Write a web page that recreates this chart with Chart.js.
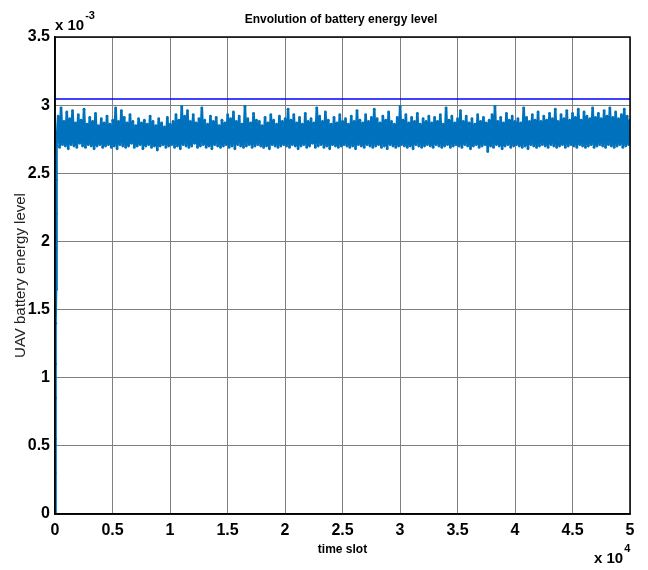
<!DOCTYPE html>
<html>
<head>
<meta charset="utf-8">
<title>Envolution of battery energy level</title>
<script src="https://cdn.jsdelivr.net/npm/chart.js@4.4.1/dist/chart.umd.min.js"></script>
<style>
    html, body { margin: 0; padding: 0; background: #ffffff; }
    #battery-chart { display: block; }
</style>
</head>
<body>
<canvas id="battery-chart" width="648" height="570"></canvas>
<script>
// Axis ticks (x in time slots, y in units of 1e-3)
const xTicks = [0, 5000, 10000, 15000, 20000, 25000, 30000, 35000, 40000, 45000, 50000];
const yTicks = [0, 0.5, 1, 1.5, 2, 2.5, 3, 3.5];

// Start-up ramp of the battery level (time slot / level x1e-3)
const rampSlots = [0, 15, 30, 45, 60, 75, 90, 105, 120, 135, 150];
const rampLevels = [0, 0.3, 0.55, 0.85, 1.1, 1.4, 1.65, 1.95, 2.2, 2.45, 2.7];

// Steady-state level, sampled evenly from slot 150 to 50000 (x1e-3)
const steadyStart = 150;
const steadyEnd = 50000;
const steadyLevels = [
    2.70,2.92,2.69,2.98,2.71,2.88,2.70,2.95,2.68,2.90,2.71,2.96,2.70,2.87,2.69,2.93,2.72,2.89,2.70,2.97,
    2.69,2.86,2.71,2.91,2.70,2.88,2.68,2.94,2.70,2.85,2.71,2.90,2.69,2.87,2.70,2.92,2.71,2.86,2.69,2.89,
    2.70,2.98,2.68,2.88,2.71,2.96,2.70,2.91,2.69,2.87,2.70,2.93,2.72,2.88,2.69,2.85,2.70,2.90,2.71,2.87,
    2.68,2.89,2.70,2.86,2.71,2.92,2.69,2.88,2.70,2.85,2.67,2.90,2.70,2.87,2.71,2.84,2.69,2.91,2.70,2.86,
    2.71,2.88,2.69,2.93,2.70,2.89,2.68,2.99,2.71,2.92,2.70,2.96,2.69,2.88,2.70,2.93,2.72,2.87,2.69,2.90,
    2.70,2.98,2.71,2.89,2.69,2.86,2.70,2.92,2.68,2.88,2.71,2.91,2.70,2.85,2.69,2.89,2.70,2.87,2.71,2.93,
    2.69,2.90,2.70,2.95,2.68,2.88,2.71,2.92,2.70,2.86,2.69,2.99,2.70,2.90,2.71,2.87,2.69,2.94,2.70,2.89,
    2.71,2.88,2.70,2.85,2.69,2.91,2.70,2.87,2.68,2.93,2.71,2.89,2.70,2.86,2.69,2.92,2.70,2.88,2.71,2.90,
    2.70,2.97,2.69,2.89,2.71,2.93,2.70,2.87,2.68,2.91,2.70,2.86,2.71,2.94,2.69,2.88,2.70,2.90,2.72,2.87,
    2.69,2.98,2.70,2.92,2.71,2.88,2.69,2.95,2.70,2.89,2.68,2.86,2.71,2.91,2.70,2.87,2.69,2.93,2.70,2.88,
    2.71,2.90,2.70,2.86,2.69,2.92,2.70,2.88,2.68,2.96,2.71,2.89,2.70,2.87,2.69,2.93,2.71,2.88,2.70,2.91,
    2.69,2.97,2.70,2.90,2.71,2.87,2.69,2.92,2.70,2.89,2.68,2.95,2.71,2.88,2.70,2.86,2.69,2.91,2.70,2.99,
    2.71,2.89,2.70,2.93,2.69,2.87,2.70,2.91,2.68,2.88,2.71,2.94,2.70,2.86,2.69,2.90,2.70,2.88,2.71,2.92,
    2.70,2.87,2.69,2.91,2.71,2.88,2.70,2.93,2.69,2.86,2.70,2.98,2.71,2.89,2.69,2.92,2.70,2.87,2.71,2.90,
    2.70,2.96,2.69,2.88,2.71,2.92,2.70,2.87,2.68,2.90,2.70,2.86,2.71,2.93,2.69,2.88,2.70,2.91,2.71,2.87,
    2.66,2.89,2.70,2.93,2.69,2.99,2.71,2.88,2.70,2.91,2.68,2.87,2.70,2.94,2.71,2.89,2.69,2.92,2.70,2.88,
    2.71,2.90,2.70,2.87,2.69,2.98,2.70,2.91,2.68,2.88,2.71,2.93,2.70,2.89,2.69,2.95,2.70,2.88,2.71,2.92,
    2.70,2.89,2.69,2.94,2.71,2.90,2.70,2.97,2.69,2.88,2.70,2.93,2.71,2.90,2.69,2.96,2.70,2.89,2.71,2.94,
    2.70,2.91,2.69,2.97,2.71,2.89,2.70,2.95,2.69,2.92,2.70,2.90,2.71,2.98,2.69,2.91,2.70,2.94,2.71,2.90,
    2.70,2.96,2.69,2.92,2.71,2.98,2.70,2.91,2.69,2.95,2.70,2.90,2.71,2.93,2.69,2.97,2.70,2.92,2.71,2.89
];

// Upper reference level (x1e-3)
const capLevel = 3.045;

// Build point lists for the linear x scale
const levelPoints = rampSlots.map((s, i) => ({ x: s, y: rampLevels[i] }));
const step = (steadyEnd - steadyStart) / (steadyLevels.length - 1);
steadyLevels.forEach((v, i) => {
    levelPoints.push({ x: steadyStart + i * step, y: v });
});
const capPoints = [{ x: 0, y: capLevel }, { x: 50000, y: capLevel }];

const FONT = "'Liberation Sans', Arial, Helvetica, sans-serif";

// Box, title and exponent labels drawn MATLAB style
function drawExponent(ctx, base, exp, x, y) {
    ctx.font = 'bold 15px ' + FONT;
    ctx.fillText(base, x, y);
    const w = ctx.measureText(base).width;
    ctx.font = 'bold 11px ' + FONT;
    ctx.fillText(exp, x + w + 1, y - 11);
}

const matlabDecor = {
    id: 'matlabDecor',
    afterDraw(chart) {
        const { ctx, chartArea } = chart;
        ctx.save();
        ctx.strokeStyle = '#000000';
        ctx.lineWidth = 1.5;
        ctx.strokeRect(chartArea.left, chartArea.top,
            chartArea.right - chartArea.left, chartArea.bottom - chartArea.top);

        ctx.fillStyle = '#000000';
        ctx.textBaseline = 'alphabetic';

        // title
        ctx.font = 'bold 12px ' + FONT;
        ctx.textAlign = 'center';
        ctx.fillText('Envolution of battery energy level', 341, 23);

        // exponents
        ctx.textAlign = 'left';
        drawExponent(ctx, 'x 10', '-3', 55, 30);
        drawExponent(ctx, 'x 10', '4', 594, 563);
        ctx.restore();
    }
};

const ctx = document.getElementById('battery-chart').getContext('2d');
const batteryChart = new Chart(ctx, {
    type: 'line',
    data: {
        datasets: [
            {
                label: 'cap',
                data: capPoints,
                borderColor: '#0000ff',
                borderWidth: 1.5,
                pointRadius: 0,
                fill: false
            },
            {
                label: 'UAV battery energy level',
                data: levelPoints,
                borderColor: '#0072bd',
                backgroundColor: '#0072bd',
                borderWidth: 2.6,
                pointRadius: 1.4,
                pointBorderWidth: 0,
                tension: 0,
                fill: false
            }
        ]
    },
    options: {
        responsive: false,
        animation: false,
        devicePixelRatio: 1,
        layout: {
            padding: { top: 37, right: 18, left: 0, bottom: 0 }
        },
        plugins: {
            legend: { display: false },
            tooltip: { enabled: false },
            title: { display: false }
        },
        scales: {
            x: {
                type: 'linear',
                min: 0,
                max: 50000,
                afterFit: (scale) => { scale.height = 56; },
                afterBuildTicks: (scale) => { scale.ticks = xTicks.map(v => ({ value: v })); },
                grid: {
                    color: '#808080',
                    lineWidth: 1,
                    drawTicks: false
                },
                border: { color: '#000000', width: 1.5 },
                ticks: {
                    padding: 7,
                    color: '#000000',
                    font: { family: FONT, size: 16, weight: 'bold' },
                    maxRotation: 0,
                    callback: (v) => String(v / 10000)
                },
                title: {
                    display: true,
                    text: 'time slot',
                    color: '#000000',
                    font: { family: FONT, size: 12, weight: 'bold' },
                    padding: { top: 0, bottom: 13 }
                }
            },
            y: {
                type: 'linear',
                min: 0,
                max: 3.5,
                afterFit: (scale) => { scale.width = 55; },
                afterBuildTicks: (scale) => { scale.ticks = yTicks.map(v => ({ value: v })); },
                grid: {
                    color: '#808080',
                    lineWidth: 1,
                    drawTicks: false
                },
                border: { color: '#000000', width: 1.5 },
                ticks: {
                    padding: 5,
                    color: '#000000',
                    font: { family: FONT, size: 16, weight: 'bold' },
                    callback: (v) => String(v)
                },
                title: {
                    display: true,
                    text: 'UAV battery energy level',
                    color: '#222222',
                    font: { family: FONT, size: 15 },
                    padding: { top: 12, bottom: 0 }
                }
            }
        }
    },
    plugins: [matlabDecor]
});
</script>
</body>
</html>
